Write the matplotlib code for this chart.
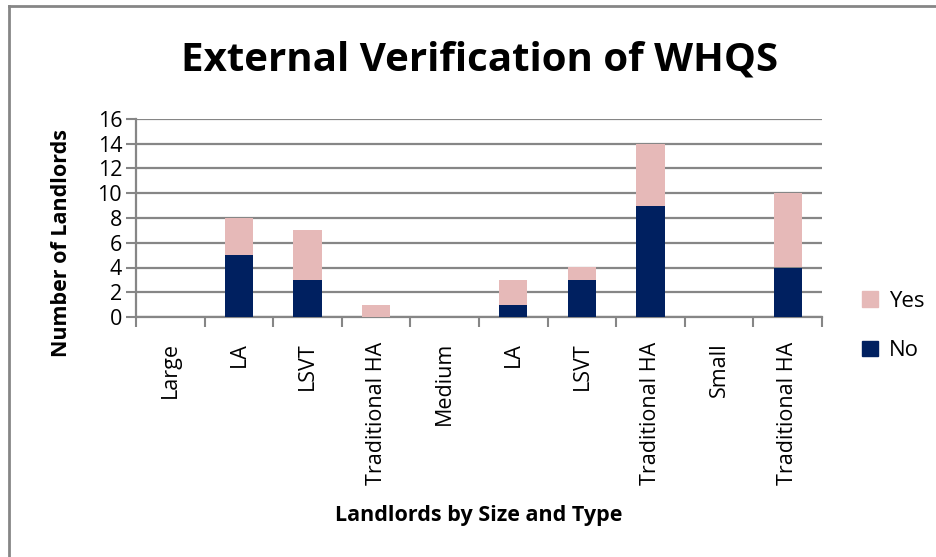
import numpy as np
import matplotlib
matplotlib.use('Agg')
import matplotlib.pyplot as plt
from matplotlib.lines import Line2D
from matplotlib.patches import Patch

# data
categories = ['Large', 'LA', 'LSVT', 'Traditional HA', 'Medium',
              'LA', 'LSVT', 'Traditional HA', 'Small', 'Traditional HA']
no_vals = [0, 5, 3, 0, 0, 1, 3, 9, 0, 4]
yes_vals = [0, 3, 4, 1, 0, 2, 1, 5, 0, 6]

navy = '#002060'
pink = '#E6B9B8'
grid_c = '#868686'

plt.rcParams['font.family'] = ['Open Sans', 'DejaVu Sans']

fig = plt.figure(figsize=(9.37, 5.57), dpi=100)
W, H = 937, 557
ax = fig.add_axes([136/W, 1 - 317/H, (822-136)/W, (317-119)/H])

x = np.arange(len(categories))
ax.bar(x, no_vals, width=0.41, color=navy, label='No', zorder=3)
ax.bar(x, yes_vals, width=0.41, bottom=no_vals, color=pink, label='Yes', zorder=3)

ax.set_xlim(-0.5, len(categories) - 0.5)
ax.set_ylim(0, 16)
ax.set_yticks(range(0, 17, 2))
ax.yaxis.grid(True, color=grid_c, linewidth=1.6, zorder=0)
ax.set_axisbelow(True)

# category ticks between bars, labels centred on bars
ax.set_xticks(np.arange(-0.5, len(categories)), minor=False)
ax.set_xticklabels([])
ax.set_xticks(x, minor=True)
ax.set_xticklabels(categories, minor=True, rotation=90, fontsize=15.5)
ax.tick_params(axis='x', which='minor', length=0, pad=18)
ax.tick_params(axis='x', which='major', length=7, width=1.5, color=grid_c)
ax.tick_params(axis='y', length=7, width=1.5, color=grid_c, labelsize=15.5, pad=3)

for s in ['top', 'right']:
    ax.spines[s].set_visible(False)
for s in ['left', 'bottom']:
    ax.spines[s].set_color(grid_c)
    ax.spines[s].set_linewidth(1.6)

fig.text(480/W, 1 - 60/H, 'External Verification of WHQS', ha='center', va='center',
         fontsize=29, fontweight='bold')
fig.text(479/W, 1 - 515/H, 'Landlords by Size and Type', ha='center', va='center',
         fontsize=15.5, fontweight='bold')
fig.text(62/W, 1 - 243/H, 'Number of Landlords', ha='center', va='center',
         rotation=90, fontsize=15.5, fontweight='bold')

handles = [Patch(color=pink, label='Yes'), Patch(color=navy, label='No')]
fig.legend(handles=handles, loc='center left', bbox_to_anchor=(842/W, 1 - 326/H),
           frameon=False, fontsize=16, labelspacing=1.3, handlelength=0.7,
           handleheight=0.7, handletextpad=0.5)

# chart border
fig.add_artist(Line2D([9/W, 1], [1 - 6/H, 1 - 6/H], color=grid_c, linewidth=2))
fig.add_artist(Line2D([9/W, 9/W], [0, 1 - 6/H], color=grid_c, linewidth=2))

fig.savefig('out.png', dpi=100)
